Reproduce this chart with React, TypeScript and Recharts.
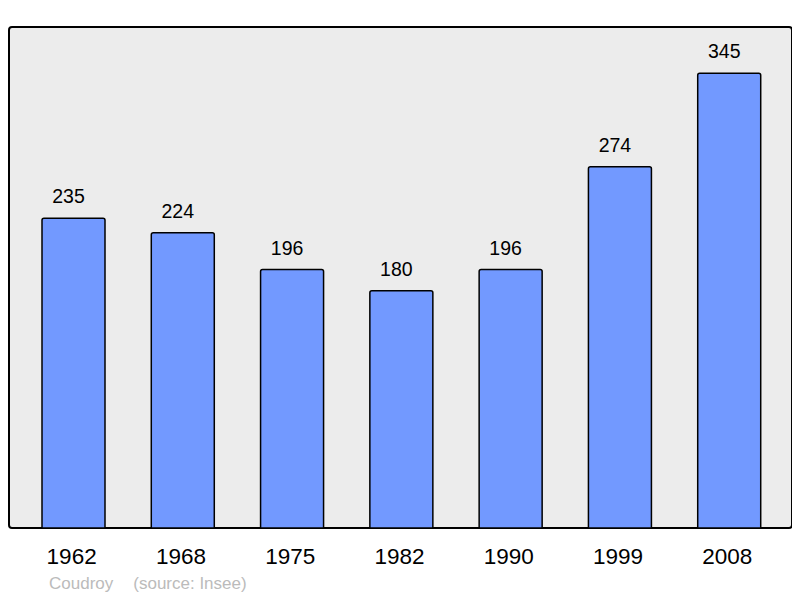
import React from "react";
import { BarChart, Bar, XAxis, YAxis, LabelList } from "recharts";

const years = ["1962", "1968", "1975", "1982", "1990", "1999", "2008"];
const population = [235, 224, 196, 180, 196, 274, 345];
const commune = "Coudroy";
const source = "(source: Insee)";

const data = years.map((y, i) => ({ year: y, value: population[i] }));

const FONT = "'Liberation Sans', Arial, sans-serif";

const renderLabel = (props: any) => {
  const { x, y, width, value } = props;
  return (
    <text
      x={Number(x) + Number(width) / 2 - 5}
      y={Number(y) - 15}
      textAnchor="middle"
      fontSize={19.5}
      fontFamily={FONT}
      fill="#000"
    >
      {value}
    </text>
  );
};

export default function App() {
  return (
    <div style={{ position: "relative", width: 800, height: 598, marginLeft: -8, marginTop: -8, background: "#fff" }}>
      <div
        style={{
          position: "absolute",
          left: 8,
          top: 26,
          width: 785,
          height: 503,
          border: "2px solid #000",
          borderRadius: 4,
          boxSizing: "border-box",
          background: "#ececec",
        }}
      />
      <div style={{ position: "absolute", left: 0, top: 0 }}>
        <BarChart width={800} height={598} data={data} margin={{ top: 27, right: 8, left: 9, bottom: 0 }}>
          <YAxis hide domain={[0, 380]} />
          <XAxis
            dataKey="year"
            height={70}
            axisLine={false}
            tickLine={false}
            tickSize={0}
            tickMargin={20}
            interval={0}
            padding={{ left: 10, right: 8 }}
            tick={{ fontSize: 22.5, fill: "#000", fontFamily: FONT, dx: -2 }}
          />
          <Bar
            dataKey="value"
            barSize={63}
            fill="#7299ff"
            stroke="#000"
            strokeWidth={1.5}
            radius={[2, 2, 0, 0]}
            isAnimationActive={false}
          >
            <LabelList dataKey="value" content={renderLabel} />
          </Bar>
        </BarChart>
      </div>
      <div
        style={{
          position: "absolute",
          left: 49,
          top: 574,
          fontFamily: FONT,
          fontSize: 17,
          color: "#bbbbbb",
          whiteSpace: "nowrap",
        }}
      >
        <span>{commune}</span>
        <span style={{ marginLeft: 20 }}>{source}</span>
      </div>
    </div>
  );
}
